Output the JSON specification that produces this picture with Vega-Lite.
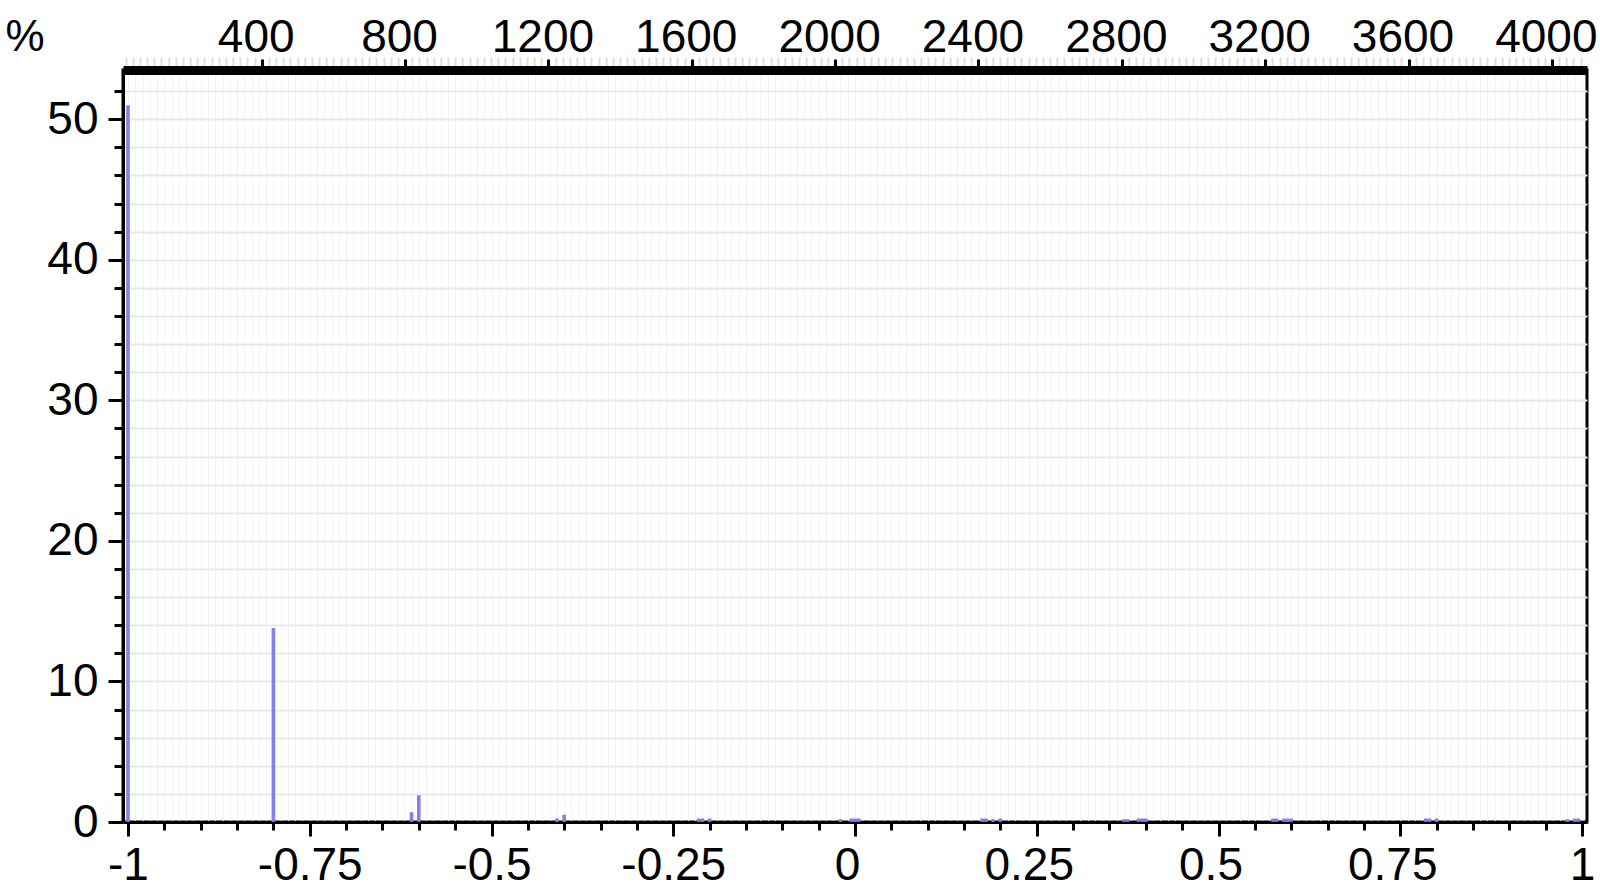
{
  "$schema": "https://vega.github.io/schema/vega-lite/v6.json",
  "width": 1464,
  "height": 752,
  "autosize": {"type": "none"},
  "padding": {"left": 123, "top": 70, "right": 13, "bottom": 73},
  "background": "white",
  "config": {
    "view": {"stroke": "black", "strokeWidth": 3},
    "font": "Liberation Sans",
    "axis": {"labelFont": "Liberation Sans", "titleFont": "Liberation Sans", "labelColor": "black", "titleColor": "black"}
  },
  "layer": [
    {
      "data": {
        "values": [
          {"r": -1, "pct": 51.0},
          {"r": -0.8, "pct": 13.8},
          {"r": -0.61, "pct": 0.7},
          {"r": -0.6, "pct": 1.9},
          {"r": -0.41, "pct": 0.25},
          {"r": -0.4, "pct": 0.52},
          {"r": -0.215, "pct": 0.25},
          {"r": -0.21, "pct": 0.25},
          {"r": -0.2, "pct": 0.25},
          {"r": -0.02, "pct": 0.2},
          {"r": -0.005, "pct": 0.25},
          {"r": 0, "pct": 0.25},
          {"r": 0.005, "pct": 0.25},
          {"r": 0.175, "pct": 0.25},
          {"r": 0.18, "pct": 0.25},
          {"r": 0.19, "pct": 0.2},
          {"r": 0.2, "pct": 0.25},
          {"r": 0.37, "pct": 0.2},
          {"r": 0.375, "pct": 0.2},
          {"r": 0.39, "pct": 0.25},
          {"r": 0.395, "pct": 0.25},
          {"r": 0.4, "pct": 0.25},
          {"r": 0.575, "pct": 0.25},
          {"r": 0.58, "pct": 0.25},
          {"r": 0.59, "pct": 0.25},
          {"r": 0.595, "pct": 0.25},
          {"r": 0.6, "pct": 0.25},
          {"r": 0.785, "pct": 0.25},
          {"r": 0.79, "pct": 0.25},
          {"r": 0.8, "pct": 0.25},
          {"r": 0.98, "pct": 0.2},
          {"r": 0.99, "pct": 0.25},
          {"r": 0.995, "pct": 0.25}
        ]
      },
      "mark": {"type": "bar", "size": 3.6, "color": "#7a7ae6", "opacity": 0.95},
      "encoding": {
        "x": {
          "field": "r",
          "type": "quantitative",
          "scale": {"domain": [-1, 1], "nice": false, "zero": false},
          "axis": {
            "orient": "bottom",
            "title": null,
            "tickCount": 200,
            "labelOverlap": false,
            "labelFlush": false,
            "labelFontSize": 46,
            "labelPadding": 7,
            "labelExpr": "abs(datum.value*4 - round(datum.value*4)) < 0.000001 ? replace(format(datum.value, '~g'), '\u2212', '-') : ''",
            "labelOffset": {
              "condition": {"test": "datum.value > -0.01 && datum.value < 0.99", "value": -8},
              "value": 0
            },
            "tickSize": {
              "condition": {"test": "abs(datum.value*4 - round(datum.value*4)) < 0.000001", "value": 14},
              "value": 8
            },
            "tickOpacity": {
              "condition": {"test": "abs(datum.value*20 - round(datum.value*20)) < 0.000001", "value": 1},
              "value": 0
            },
            "tickWidth": 3,
            "tickColor": "black",
            "domainColor": "black",
            "domainWidth": 3,
            "grid": true,
            "gridColor": "#f2f2f2",
            "gridWidth": 1
          }
        },
        "y": {
          "field": "pct",
          "type": "quantitative",
          "scale": {"domain": [0, 53.5], "nice": false},
          "axis": {
            "orient": "left",
            "title": "%",
            "titleAngle": 0,
            "titleAlign": "left",
            "titleBaseline": "alphabetic",
            "titleX": -118,
            "titleY": -20,
            "titleFontSize": 44,
            "titleFontWeight": "normal",
            "values": [0, 2, 4, 6, 8, 10, 12, 14, 16, 18, 20, 22, 24, 26, 28, 30, 32, 34, 36, 38, 40, 42, 44, 46, 48, 50, 52],
            "labelExpr": "datum.value % 10 === 0 ? datum.label : ''",
            "labelOverlap": false,
            "labelFlush": false,
            "labelFontSize": 46,
            "labelPadding": 10,
            "tickSize": {
              "condition": {"test": "datum.value % 10 === 0", "value": 15},
              "value": 9
            },
            "tickWidth": 3,
            "tickColor": "black",
            "domainColor": "black",
            "domainWidth": 3,
            "grid": true,
            "gridColor": "#e9e9e9",
            "gridWidth": 2
          }
        }
      }
    },
    {
      "data": {"values": [{}]},
      "mark": {"type": "point", "opacity": 0},
      "encoding": {
        "x": {
          "datum": 13,
          "type": "quantitative",
          "scale": {"domain": [13, 4098], "nice": false, "zero": false},
          "axis": {
            "orient": "top",
            "title": null,
            "tickCount": 204,
            "format": "d",
            "labelExpr": "datum.value % 400 === 0 ? datum.label : ''",
            "labelOverlap": false,
            "labelFlush": false,
            "labelFontSize": 46,
            "labelBaseline": "alphabetic",
            "labelPadding": 8,
            "labelOffset": -6,
            "tickSize": {
              "condition": {"test": "datum.value % 400 === 0", "value": 11},
              "value": 13
            },
            "tickWidth": {
              "condition": {"test": "datum.value % 400 === 0", "value": 3},
              "value": 2
            },
            "tickColor": {
              "condition": {"test": "datum.value % 400 === 0", "value": "black"},
              "value": "#dedede"
            },
            "domainColor": "black",
            "domainWidth": 9,
            "grid": false
          }
        }
      }
    }
  ],
  "resolve": {"scale": {"x": "independent"}}
}
